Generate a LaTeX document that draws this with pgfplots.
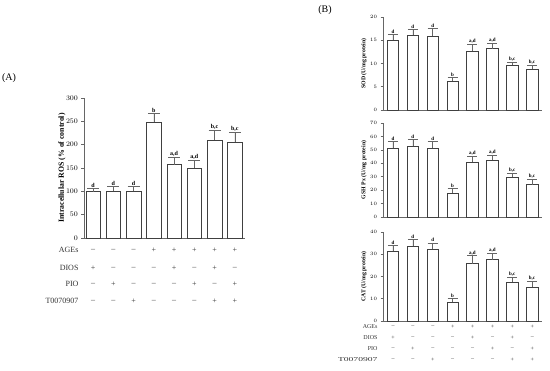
\documentclass[border=0pt]{standalone}
\usepackage{fontspec}
\setmainfont{Liberation Serif}
\usepackage{pgfplots}
\usepackage{pgfplotstable}
\pgfplotsset{compat=1.18}

\pgfplotstableread{
x y e lab
0 99 8 d
1 100 10 d
2 100 10 d
3 248 19 b
4 157 16 a,d
5 150 16 a,d
6 210 21 b,c
7 205 21 b,c
}\dataA
\pgfplotstableread{
x y e lab
0 15.0 1.3 d
1 16.1 1.3 d
2 15.9 1.7 d
3 6.2 0.8 b
4 12.6 1.5 a,d
5 13.2 1.2 a,d
6 9.6 0.7 b,c
7 8.8 0.8 b,c
}\dataSOD
\pgfplotstableread{
x y e lab
0 51.4 4.9 d
1 52.6 5.0 d
2 51.4 4.9 d
3 17.9 3.1 b
4 41.0 4.0 a,d
5 42.4 3.8 a,d
6 29.8 3.0 b,c
7 24.1 4.2 b,c
}\dataGSH
\pgfplotstableread{
x y e lab
0 31.5 2.4 d
1 33.7 2.9 d
2 32.2 2.9 d
3 8.4 1.6 b
4 25.8 3.5 a,d
5 27.6 2.8 a,d
6 17.5 2.1 b,c
7 15.2 2.5 b,c
}\dataCAT

\pgfplotsset{
  panel/.style={scale only axis, axis lines=left,
    axis line style={-, black!60, line width=0.6pt},
    xtick=\empty, tick align=outside,
    ytick style={black!60, line width=0.6pt}, major tick length=2.5pt,
    clip=false, ymin=0},
  barsA/.style={ybar, bar width=14.5pt, fill=white, draw=black!75, line width=0.6pt,
    error bars/.cd, y dir=plus, y explicit,
    error bar style={black!60, line width=0.6pt},
    error mark options={rotate=90, mark size=6pt, black!60, line width=0.6pt}},
  barsB/.style={ybar, bar width=11.5pt, fill=white, draw=black!75, line width=0.6pt,
    error bars/.cd, y dir=plus, y explicit,
    error bar style={black!60, line width=0.6pt},
    error mark options={rotate=90, mark size=5pt, black!60, line width=0.6pt}},
  labs/.style={draw=none, mark=none, nodes near coords, point meta=explicit symbolic,
    nodes near coords style={font=#1, anchor=south, inner sep=0.8pt}},
}

\begin{document}
\begin{tikzpicture}[x=1pt,y=1pt]
\path[use as bounding box] (0pt,0pt) rectangle (550pt,371pt);

% Panel A
\node[font=\fontsize{10}{10}\selectfont] at (9pt,293pt) {(A)};
\begin{axis}[panel, at={(84pt,133pt)}, anchor=south west, width=161pt, height=140pt,
  xmin=-0.45, xmax=7.5, ymax=300, ytick={0,50,...,300},
  y tick label style={font=\bfseries\fontsize{7}{7}\selectfont},
  ylabel={Intracellular ROS (\% of control)},
  every axis y label/.style={at={([xshift=-22pt]axis description cs:0,0.5)}, rotate=90, anchor=center,
    font=\bfseries\fontsize{7.8}{8}\selectfont}]
\addplot[barsA] table[x=x, y=y, y error=e]{\dataA};
\addplot[labs={\bfseries\fontsize{6}{6}\selectfont}] table[x=x, y expr=\thisrow{y}+\thisrow{e}, meta=lab]{\dataA};
\end{axis}
\begin{scope}[font=\fontsize{8}{8}\selectfont, text=black!80]
\node[anchor=east] at (82pt,121pt) {AGEs};
\node[anchor=east] at (82pt,103pt) {DIOS};
\node[anchor=east] at (82pt,87pt) {PIO};
\node[anchor=east] at (82pt,70pt) {T0070907};
\foreach \s [count=\i from 0] in {–,–,–,+,+,+,+,+} \node at (93.1pt+\i*20.25pt,121pt) {\s};
\foreach \s [count=\i from 0] in {+,–,–,–,+,–,+,–} \node at (93.1pt+\i*20.25pt,103pt) {\s};
\foreach \s [count=\i from 0] in {–,+,–,–,–,+,–,+} \node at (93.1pt+\i*20.25pt,87pt) {\s};
\foreach \s [count=\i from 0] in {–,–,+,–,–,–,+,+} \node at (93.1pt+\i*20.25pt,70pt) {\s};
\end{scope}

% Panel B
\node[font=\fontsize{10}{10}\selectfont] at (325pt,361pt) {(B)};
\begin{axis}[panel, at={(383pt,261pt)}, anchor=south west, width=159pt, height=93pt,
  xmin=-0.5, xmax=7.5, ymax=20, ytick={0,5,...,20},
  y tick label style={font=\bfseries\fontsize{5.5}{5.5}\selectfont},
  ylabel={SOD (U/mg protein)},
  every axis y label/.style={at={([xshift=-19pt]axis description cs:0,0.5)}, rotate=90, anchor=center,
    font=\bfseries\fontsize{5.8}{6}\selectfont}]
\addplot[barsB] table[x=x, y=y, y error=e]{\dataSOD};
\addplot[labs={\bfseries\fontsize{5}{5}\selectfont}] table[x=x, y expr=\thisrow{y}+\thisrow{e}, meta=lab]{\dataSOD};
\end{axis}
\begin{axis}[panel, at={(383pt,154pt)}, anchor=south west, width=159pt, height=94pt,
  xmin=-0.5, xmax=7.5, ymax=70, ytick={0,10,...,70},
  y tick label style={font=\bfseries\fontsize{5.5}{5.5}\selectfont},
  ylabel={GSH Px (U/mg protein)},
  every axis y label/.style={at={([xshift=-19pt]axis description cs:0,0.5)}, rotate=90, anchor=center,
    font=\bfseries\fontsize{5.8}{6}\selectfont}]
\addplot[barsB] table[x=x, y=y, y error=e]{\dataGSH};
\addplot[labs={\bfseries\fontsize{5}{5}\selectfont}] table[x=x, y expr=\thisrow{y}+\thisrow{e}, meta=lab]{\dataGSH};
\end{axis}
\begin{axis}[panel, at={(383pt,50pt)}, anchor=south west, width=159pt, height=89pt,
  xmin=-0.5, xmax=7.5, ymax=40, ytick={0,10,...,40},
  y tick label style={font=\bfseries\fontsize{5.5}{5.5}\selectfont},
  ylabel={CAT (U/mg protein)},
  every axis y label/.style={at={([xshift=-19pt]axis description cs:0,0.5)}, rotate=90, anchor=center,
    font=\bfseries\fontsize{5.8}{6}\selectfont}]
\addplot[barsB] table[x=x, y=y, y error=e]{\dataCAT};
\addplot[labs={\bfseries\fontsize{5}{5}\selectfont}] table[x=x, y expr=\thisrow{y}+\thisrow{e}, meta=lab]{\dataCAT};
\end{axis}
\begin{scope}[font=\fontsize{6}{6}\selectfont, text=black!80]
\node[anchor=east] at (381pt,44pt) {AGEs};
\node[anchor=east] at (381pt,33pt) {DIOS};
\node[anchor=east] at (381pt,22pt) {PIO};
\node[anchor=east] at (381pt,11pt) {\scalebox{1.6}[1]{T0070907}};
\foreach \s [count=\i from 0] in {–,–,–,+,+,+,+,+} \node at (393pt+\i*19.9pt,44pt) {\s};
\foreach \s [count=\i from 0] in {+,–,–,–,+,–,+,–} \node at (393pt+\i*19.9pt,33pt) {\s};
\foreach \s [count=\i from 0] in {–,+,–,–,–,+,–,+} \node at (393pt+\i*19.9pt,22pt) {\s};
\foreach \s [count=\i from 0] in {–,–,+,–,–,–,+,+} \node at (393pt+\i*19.9pt,11pt) {\s};
\end{scope}
\end{tikzpicture}
\end{document}
